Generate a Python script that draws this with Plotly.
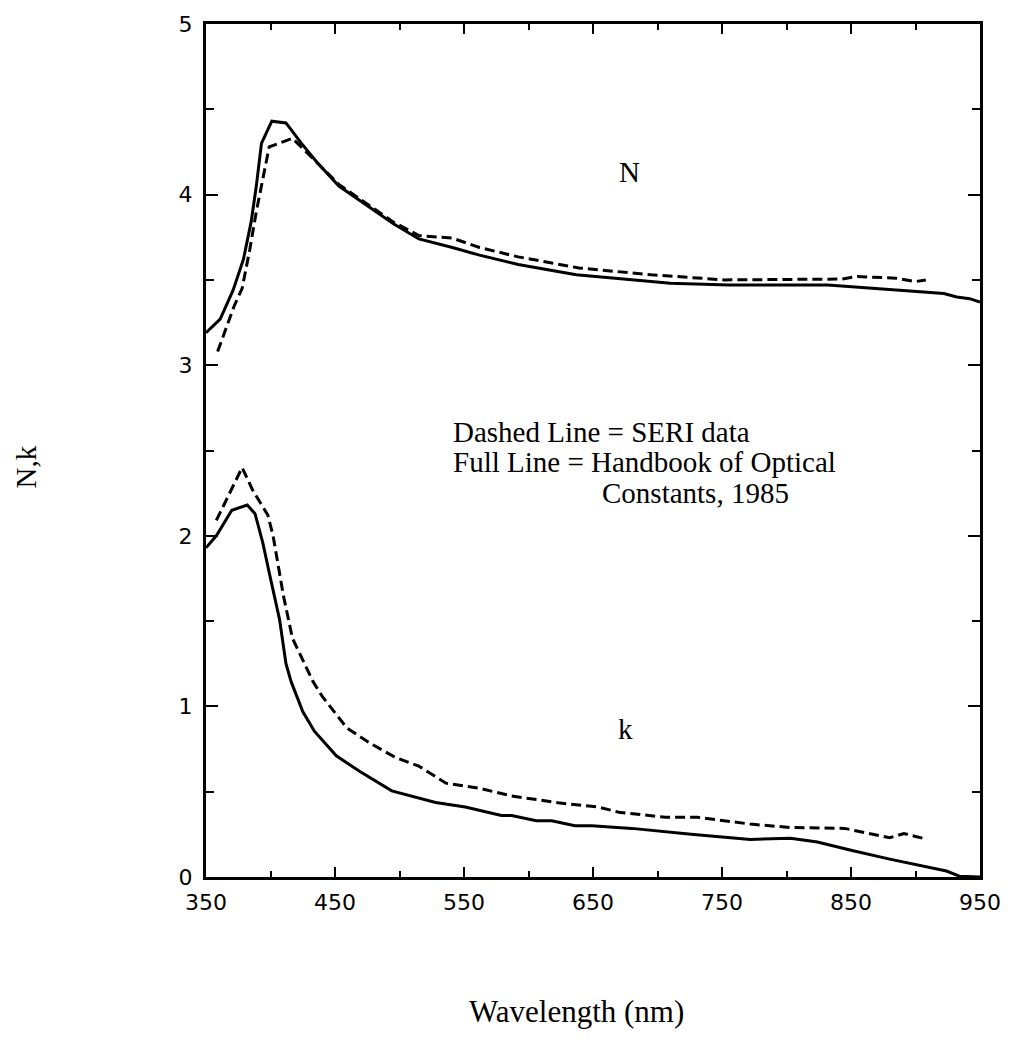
import plotly.graph_objects as go

# ---- data ----
# N, Handbook of Optical Constants (full line)
n_hb_wl = [350, 361, 371, 379, 385, 389, 393, 401, 412, 424, 436, 453, 474, 495, 515, 541, 562,
           592, 637, 710, 755, 832, 922, 932, 942, 950]
n_hb = [3.19, 3.27, 3.44, 3.62, 3.84, 4.05, 4.30, 4.43, 4.42, 4.30, 4.19, 4.05, 3.94, 3.83, 3.74,
        3.69, 3.645, 3.59, 3.53, 3.48, 3.47, 3.47, 3.42, 3.40, 3.39, 3.37]

# N, SERI data (dashed line)
n_seri_wl = [359, 366, 372, 378, 384, 389, 394, 399, 417, 438, 453, 474, 495, 515, 541, 562,
             592, 639, 695, 752, 843, 855, 885, 900, 908]
n_seri = [3.08, 3.22, 3.35, 3.45, 3.68, 3.90, 4.10, 4.28, 4.33, 4.17, 4.06, 3.95, 3.84, 3.76,
          3.745, 3.69, 3.635, 3.57, 3.53, 3.50, 3.505, 3.52, 3.51, 3.49, 3.50]

# k, Handbook of Optical Constants (full line)
k_hb_wl = [350, 358, 370, 382, 388, 394, 400, 407, 412, 416, 425, 434, 451, 469, 494, 528, 551,
           579, 587, 606, 618, 636, 649, 680, 726, 772, 803, 824, 850, 880, 924, 934, 950]
k_hb = [1.93, 2.00, 2.15, 2.18, 2.13, 1.96, 1.75, 1.51, 1.25, 1.145, 0.97, 0.855, 0.71, 0.62,
        0.505, 0.437, 0.41, 0.36, 0.36, 0.33, 0.33, 0.30, 0.30, 0.285, 0.25, 0.22, 0.227, 0.205,
        0.157, 0.105, 0.035, 0.005, 0.0]

# k, SERI data (dashed line)
k_seri_wl = [358, 378, 386, 398, 402, 410, 417, 433, 440, 459, 477, 497, 515, 536, 562, 587,
             623, 639, 654, 670, 706, 731, 772, 803, 845, 880, 891, 907]
k_seri = [2.09, 2.40, 2.27, 2.12, 2.00, 1.65, 1.40, 1.145, 1.06, 0.875, 0.785, 0.70, 0.65, 0.55,
          0.52, 0.475, 0.435, 0.42, 0.41, 0.38, 0.35, 0.35, 0.31, 0.29, 0.285, 0.23, 0.255, 0.225]

x_ticks = [350, 450, 550, 650, 750, 850, 950]
x_minor = [400, 500, 600, 700, 800, 900]
y_ticks = [0, 1, 2, 3, 4, 5]
y_minor = [0.5, 1.5, 2.5, 3.5, 4.5]

SERIF = "Liberation Serif"
SANS = "DejaVu Sans"

fig = go.Figure()
solid = dict(color="black", width=3)
dashed = dict(color="black", width=3, dash="10px,5px")

fig.add_trace(go.Scatter(x=n_hb_wl, y=n_hb, mode="lines", line=solid, name="N Handbook"))
fig.add_trace(go.Scatter(x=n_seri_wl, y=n_seri, mode="lines", line=dashed, name="N SERI"))
fig.add_trace(go.Scatter(x=k_hb_wl, y=k_hb, mode="lines", line=solid, name="k Handbook"))
fig.add_trace(go.Scatter(x=k_seri_wl, y=k_seri, mode="lines", line=dashed, name="k SERI"))

axis_common = dict(
    showline=True, linewidth=3, linecolor="black", mirror="ticks",
    ticks="inside", tickwidth=2, tickcolor="black", showgrid=False, zeroline=False,
    tickfont=dict(family=SANS, size=22, color="black"),
)

fig.update_xaxes(
    range=[350, 950], tickmode="array", tickvals=x_ticks,
    ticktext=[str(v) for v in x_ticks], ticklen=10, ticklabelstandoff=4,
    minor=dict(tickmode="array", tickvals=x_minor, ticklen=6, tickwidth=2,
               tickcolor="black", ticks="inside"),
    **axis_common,
)
fig.update_yaxes(
    range=[0, 5], tickmode="array", tickvals=y_ticks,
    ticktext=[str(v) for v in y_ticks], ticklen=12, ticklabelstandoff=6,
    minor=dict(tickmode="array", tickvals=y_minor, ticklen=8, tickwidth=2,
               tickcolor="black", ticks="inside"),
    **axis_common,
)

ann_font = dict(family=SERIF, size=29, color="black")
annotations = [
    dict(text="N", x=678, y=4.13, xref="x", yref="y", xanchor="center", yanchor="middle",
         showarrow=False, font=ann_font),
    dict(text="k", x=675, y=0.87, xref="x", yref="y", xanchor="center", yanchor="middle",
         showarrow=False, font=ann_font),
    dict(text="Dashed Line = SERI data", x=(453 - 206) / 779, y=(877 - 427) / 862,
         xref="paper", yref="paper", xanchor="left", yanchor="middle",
         showarrow=False, font=ann_font),
    dict(text="Full Line = Handbook of Optical", x=(453 - 206) / 779, y=(877 - 458) / 862,
         xref="paper", yref="paper", xanchor="left", yanchor="middle",
         showarrow=False, font=ann_font),
    dict(text="Constants, 1985", x=(603 - 206) / 779, y=(877 - 489) / 862,
         xref="paper", yref="paper", xanchor="left", yanchor="middle",
         showarrow=False, font=ann_font),
    dict(text="N,k", x=(25 - 206) / 779, y=(877 - 463) / 862, xref="paper", yref="paper",
         xanchor="center", yanchor="middle",
         textangle=-90, showarrow=False, font=dict(family=SERIF, size=29, color="black")),
    dict(text="Wavelength (nm)", x=(579 - 206) / 779, y=(877 - 1013) / 862,
         xref="paper", yref="paper", xanchor="center", yanchor="middle", showarrow=False,
         font=dict(family=SERIF, size=31, color="black")),
]

fig.update_layout(
    width=1013, height=1050,
    margin=dict(l=206, r=28, t=15, b=173, pad=0),
    paper_bgcolor="white", plot_bgcolor="white",
    showlegend=False,
    annotations=annotations,
)

fig.write_html("out.html")
